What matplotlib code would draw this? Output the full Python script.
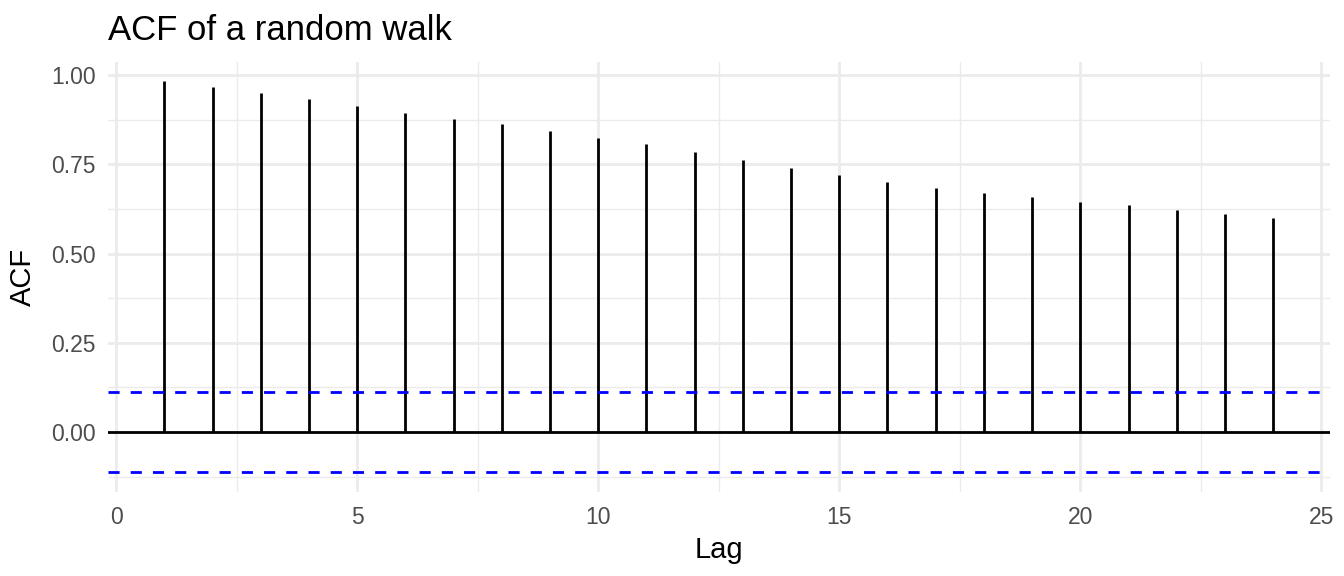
import matplotlib
matplotlib.use("Agg")
import matplotlib.pyplot as plt
import numpy as np

lags = [1, 2, 3, 4, 5, 6, 7, 8, 9, 10, 11, 12, 13, 14, 15, 16, 17, 18, 19, 20, 21, 22, 23, 24]
acf = [0.983, 0.966, 0.951, 0.933, 0.913, 0.894, 0.878, 0.863, 0.844, 0.825, 0.808, 0.784,
       0.762, 0.740, 0.720, 0.702, 0.685, 0.670, 0.658, 0.646, 0.636, 0.622, 0.610, 0.599]
ci = 0.113
xticks = [0, 5, 10, 15, 20, 25]
yticks = [0.00, 0.25, 0.50, 0.75, 1.00]

plt.rcParams['font.family'] = ['Liberation Sans', 'DejaVu Sans']

fig = plt.figure(figsize=(13.44, 5.76), dpi=100)
ax = fig.add_axes([108/1344, (576-492)/576, (1330-108)/1344, (492-62)/576])

ax.set_xlim(-0.17, 25.18)
ax.set_ylim(-0.168, 1.037)

ax.set_xticks(xticks)
ax.set_yticks(yticks)
ax.set_xticks(np.arange(2.5, 25, 5), minor=True)
ax.set_yticks([-0.125, 0.125, 0.375, 0.625, 0.875], minor=True)
ax.grid(which='major', color='#EBEBEB', linewidth=2.0)
ax.grid(which='minor', color='#EBEBEB', linewidth=1.0)
ax.set_axisbelow(True)
for s in ax.spines.values():
    s.set_visible(False)
ax.tick_params(which='both', length=0)
ax.tick_params(axis='both', labelsize=16.5, labelcolor='#4D4D4D')
ax.tick_params(axis='x', pad=10)
ax.tick_params(axis='y', pad=9)
ax.set_xticklabels([str(v) for v in xticks])
ax.set_yticklabels([f"{v:.2f}" for v in yticks])

ax.axhline(0, color='black', linewidth=2.0, zorder=3)
ax.vlines(lags, 0, acf, color='black', linewidth=2.0, zorder=3)
ax.axhline(ci, color='blue', linewidth=2.0, linestyle=(0, (4, 4)), zorder=3)
ax.axhline(-ci, color='blue', linewidth=2.0, linestyle=(0, (4, 4)), zorder=3)

ax.set_xlabel('Lag', fontsize=21, labelpad=5)
ax.set_ylabel('ACF', fontsize=21, labelpad=10)
fig.text(108/1344, 1 - 40/576, 'ACF of a random walk', fontsize=25, ha='left', va='baseline')

fig.savefig('out.png', dpi=100)
